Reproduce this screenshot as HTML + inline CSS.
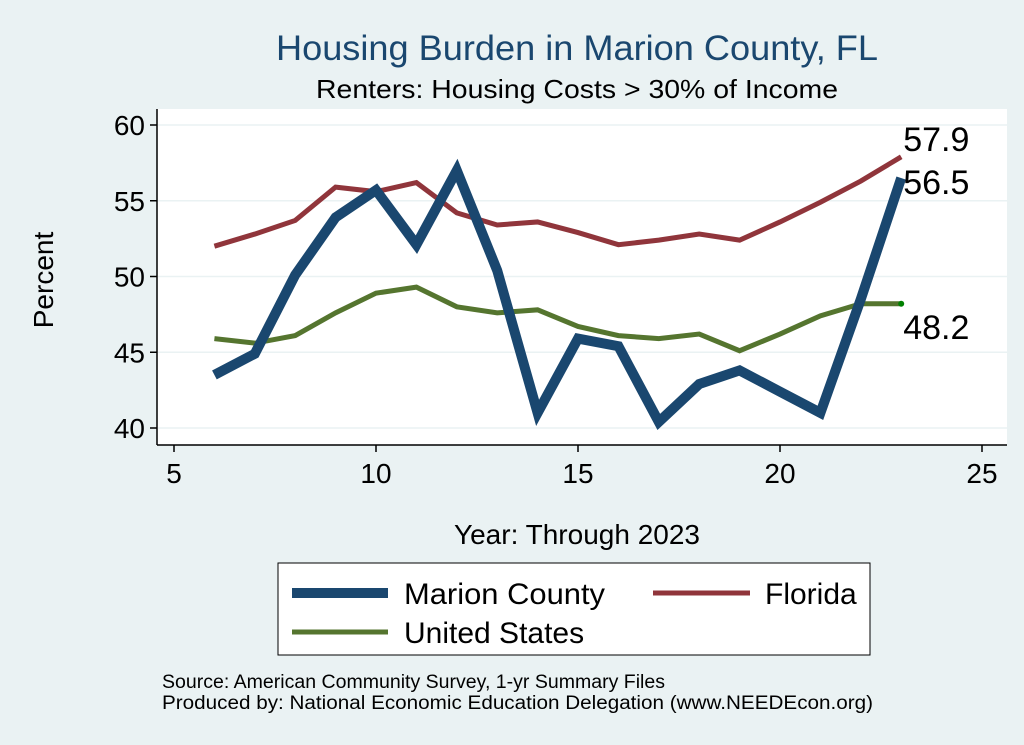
<!DOCTYPE html>
<html><head><meta charset="utf-8"><style>
body{margin:0;background:#eaf2f3;}
svg{display:block;font-family:"Liberation Sans",Arial,sans-serif;}
</style></head><body>
<svg id="c" width="1024" height="745" viewBox="0 0 1024 745">
<rect x="0" y="0" width="1024" height="745" fill="#eaf2f3"/>
<rect x="157" y="109" width="850" height="336" fill="#ffffff"/>
<text x="577" y="60" text-anchor="middle" font-size="35" fill="#1a476f" textLength="602" lengthAdjust="spacingAndGlyphs">Housing Burden in Marion County, FL</text>
<text x="577" y="98" text-anchor="middle" font-size="26" fill="#000" textLength="522" lengthAdjust="spacingAndGlyphs">Renters: Housing Costs &gt; 30% of Income</text>
<g id="grid"></g>
<g id="axes"></g>
<g id="series"></g>
<text x="53" y="280" text-anchor="middle" font-size="28" transform="rotate(-90 53 280)">Percent</text>
<text x="577" y="544" text-anchor="middle" font-size="28">Year: Through 2023</text>
<g>
<rect x="278" y="563" width="592" height="92" fill="#fff" stroke="#000" stroke-width="1"/>
<line x1="292" y1="593" x2="388" y2="593" stroke="#1a476f" stroke-width="10"/>
<text x="404" y="604" font-size="30" textLength="201" lengthAdjust="spacingAndGlyphs">Marion County</text>
<line x1="653" y1="593" x2="750" y2="593" stroke="#90353b" stroke-width="5"/>
<text x="765" y="604" font-size="30">Florida</text>
<line x1="292" y1="632" x2="388" y2="632" stroke="#55752f" stroke-width="5"/>
<text x="404" y="643" font-size="30">United States</text>
</g>
<text x="162" y="688" font-size="19" textLength="503" lengthAdjust="spacingAndGlyphs">Source: American Community Survey, 1-yr Summary Files</text>
<text x="162" y="709" font-size="19" textLength="711" lengthAdjust="spacingAndGlyphs">Produced by: National Economic Education Delegation (www.NEEDEcon.org)</text>
</svg>
<script>
const years=[6,7,8,9,10,11,12,13,14,15,16,17,18,19,20,21,22,23];
const marion=[43.5,44.9,50.1,53.9,55.7,52.1,57.0,50.4,41.0,45.9,45.4,40.4,42.9,43.8,42.4,41.0,48.5,56.5];
const florida=[52.0,52.8,53.7,55.9,55.6,56.2,54.2,53.4,53.6,52.9,52.1,52.4,52.8,52.4,53.6,54.9,56.3,57.9];
const us=[45.9,45.6,46.1,47.6,48.9,49.3,48.0,47.6,47.8,46.7,46.1,45.9,46.2,45.1,46.2,47.4,48.2,48.2];
const xTicks=[5,10,15,20,25];
const yTicks=[40,45,50,55,60];
const X=v=>174+(v-5)*40.4;
const Y=v=>428-(v-40)*15.15;
const NS="http://www.w3.org/2000/svg";
function mk(t,a,p){const e=document.createElementNS(NS,t);for(const k in a)e.setAttribute(k,a[k]);p.appendChild(e);return e;}
const grid=document.getElementById('grid'),axes=document.getElementById('axes'),ser=document.getElementById('series');
mk('line',{x1:157,y1:445,x2:1007,y2:445,stroke:'#000','stroke-width':1.5},axes);
mk('line',{x1:157,y1:109,x2:157,y2:445,stroke:'#000','stroke-width':1.5},axes);
yTicks.forEach(v=>{
 const g=mk('line',{x1:158,y1:Y(v),x2:1007,y2:Y(v),stroke:'#eaf2f3','stroke-width':1.5},grid);
 
 
 mk('line',{x1:150,y1:Y(v),x2:157,y2:Y(v),stroke:'#000','stroke-width':1.5},axes);
 const t=mk('text',{x:145,y:Y(v)+10,'text-anchor':'end','font-size':28},axes);t.textContent=v;
 
 
});
xTicks.forEach(v=>{
 mk('line',{x1:X(v),y1:445,x2:X(v),y2:452,stroke:'#000','stroke-width':1.5},axes);
 const t=mk('text',{x:X(v),y:483,'text-anchor':'middle','font-size':28},axes);t.textContent=v;
 
 
});
function line(d,c,w,name){
 const p=mk('polyline',{points:years.map((y,i)=>X(y)+','+Y(d[i])).join(' '),fill:'none',stroke:c,'stroke-width':w,'stroke-linejoin':'miter'},ser);
 
 
}
line(us,'#55752f',5,'line-united-states');
line(florida,'#90353b',5,'line-florida');
line(marion,'#1a476f',10,'line-marion-county');
const n=years.length-1;
const dot=mk('circle',{cx:X(years[n]),cy:Y(us[n]),r:3,fill:'#008000'},ser);


[[florida[n],-6,'label-florida-end'],[marion[n],16,'label-marion-end'],[us[n],35,'label-us-end']].forEach(([v,dy,nm])=>{
 const t=mk('text',{x:X(years[n])+2,y:Y(v)+dy,'font-size':34},ser);t.textContent=v.toFixed(1);
 
 
});
</script>
</body></html>
